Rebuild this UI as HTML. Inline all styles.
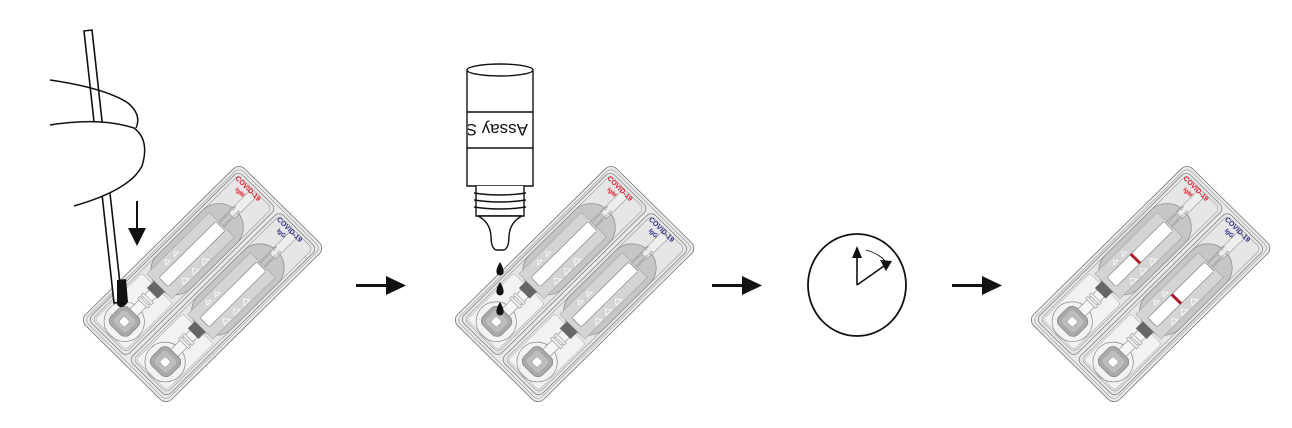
<!DOCTYPE html>
<html><head><meta charset="utf-8"><style>
html,body{margin:0;padding:0;background:#fff;}
svg{display:block;}
</style></head><body>
<svg width="1292" height="428" viewBox="0 0 1292 428" xmlns="http://www.w3.org/2000/svg" font-family="Liberation Sans, sans-serif">
<defs>
<g id="panel">
  <rect x="0" y="0" width="212" height="53" rx="6" fill="#e6e6e6" stroke="#777" stroke-width="0.7"/>
  <rect x="3" y="3" width="206" height="47" rx="5" fill="#e6e6e6" stroke="#999" stroke-width="0.6"/>
  <rect x="5" y="5" width="66" height="43" rx="3" fill="#f2f2f2" stroke="#aaa" stroke-width="0.5"/>
  <circle cx="24" cy="27" r="20" fill="none" stroke="#888" stroke-width="0.7"/>
  <rect x="36" y="22" width="34" height="10" fill="#f6f6f6" stroke="#888" stroke-width="0.6"/>
  <rect x="50" y="20" width="3" height="14" fill="#eee" stroke="#888" stroke-width="0.5"/>
  <rect x="55" y="20" width="3" height="14" fill="#eee" stroke="#888" stroke-width="0.5"/>
  <rect x="12" y="14" width="25" height="26" rx="7" fill="#a9a9a9" stroke="#777" stroke-width="0.6"/>
  <rect x="16" y="18" width="17" height="18" rx="4" fill="#bdbdbd"/>
  <rect x="20" y="23" width="8" height="8" rx="1.5" fill="#fff" stroke="#777" stroke-width="0.4"/>
  <rect x="72" y="3" width="110" height="47" rx="23" fill="#c6c6c6" stroke="#888" stroke-width="0.7"/>
  <rect x="74" y="9" width="88" height="35" fill="#d4d4d4" stroke="#999" stroke-width="0.5"/>
  <rect x="64" y="19" width="10" height="15" fill="#666"/>
  <rect x="80" y="20" width="80" height="13" rx="2" fill="#fff" stroke="#777" stroke-width="0.6"/>
  <g fill="none" stroke="#fff" stroke-width="0.8">
    <path d="M92 42 l4 -5 l4 5z M106 42 l4 -5 l4 5z M120 42 l4 -5 l4 5z"/>
    <path d="M94 16 l3 -4 l3 4z M106 16 l3 -4 l3 4z"/>
  </g>
  <rect x="175" y="22" width="30" height="9" fill="#eee" stroke="#888" stroke-width="0.5"/>
  <text x="162" y="24" font-size="3.5" fill="#777">COVID-19 IgM</text>
  <text x="162" y="30" font-size="3.5" fill="#777">COVID-19 IgG</text>
</g>
<g id="cass">
  <rect x="0" y="0" width="224" height="120" rx="8" fill="#e9e9e9" stroke="#777" stroke-width="0.8"/>
  <rect x="3" y="3" width="218" height="114" rx="6" fill="none" stroke="#999" stroke-width="0.6"/>
  <use href="#panel" x="6" y="5"/>
  <use href="#panel" x="6" y="62"/>
  <g transform="translate(210,8) rotate(90)" font-size="7" font-weight="bold" fill="#e01f2c">
    <text x="0" y="0">COVID-19</text><text x="8" y="8" font-size="6">IgM</text>
  </g>
  <g transform="translate(210,66) rotate(90)" font-size="7" font-weight="bold" fill="#2b2e83">
    <text x="0" y="0">COVID-19</text><text x="8" y="8" font-size="6">IgG</text>
  </g>
</g>
</defs>

<!-- Step 1 -->
<g transform="matrix(0.71,-0.70,0.717,0.708,80,320)"><use href="#cass"/></g>
<path d="M84 31 L92 30 L122 302 L114 303 Z" fill="#fff" stroke="#111" stroke-width="1.6"/>
<path d="M117 280 L126 279 L128 302 Q124 308 120 307 Q116 306 117 300 Z" fill="#111"/>
<path d="M50 80 Q105 88 128 103 Q142 115 136 128" fill="none" stroke="#111" stroke-width="1.5"/>
<path d="M50 125 Q100 117 134 128 Q150 140 142 166 Q130 190 74 206 L50 206 Z" fill="#fff" stroke="none"/>
<path d="M50 125 Q100 117 134 128 Q150 140 142 166 Q130 190 74 206" fill="none" stroke="#111" stroke-width="1.5"/>
<line x1="137" y1="201" x2="137" y2="230" stroke="#111" stroke-width="2"/>
<path d="M128 228 L146 228 L137 246 Z" fill="#111"/>

<!-- arrows -->
<g fill="#111">
  <rect x="356" y="284" width="32" height="3"/><path d="M386 276 L406 285.5 L386 295 Z"/>
  <rect x="712" y="284" width="32" height="3"/><path d="M742 276 L762 285.5 L742 295 Z"/>
  <rect x="952" y="284" width="32" height="3"/><path d="M982 276 L1002 285.5 L982 295 Z"/>
</g>

<!-- Step 2 -->
<g transform="matrix(0.71,-0.70,0.717,0.708,452,320)"><use href="#cass"/></g>
<g fill="#fff" stroke="#111" stroke-width="1.4">
  <path d="M467 70 L467 186 L533 186 L533 70"/>
  <ellipse cx="500" cy="70" rx="33" ry="6"/>
  <line x1="467" y1="112" x2="533" y2="112"/>
  <line x1="467" y1="148" x2="533" y2="148"/>
  <path d="M476 186 L476 216 L524 216 L524 186"/>
  <path d="M474 193 Q500 197 526 193 M474 200 Q500 204 526 200 M474 207 Q500 211 526 207" fill="none"/>
  <path d="M478 216 Q490 222 491 236 Q491 248 496 250 L504 250 Q509 248 509 236 Q510 222 522 216 Z"/>
</g>
<svg x="468" y="113" width="64" height="34" overflow="hidden">
<text transform="translate(60,17) rotate(180)" x="0" y="6" font-size="17" fill="#111">Assay So</text>
</svg>
<g fill="#111">
  <path d="M500 262 Q505 270 503 274 Q500 277 497 274 Q495 270 500 262Z"/>
  <path d="M500 282 Q505 290 503 294 Q500 297 497 294 Q495 290 500 282Z"/>
  <path d="M500 302 Q505 310 503 314 Q500 317 497 314 Q495 310 500 302Z"/>
</g>

<!-- clock -->
<ellipse cx="857" cy="285" rx="49" ry="51" fill="#fff" stroke="#111" stroke-width="1.8"/>
<line x1="857" y1="285" x2="857" y2="256" stroke="#111" stroke-width="1.6"/>
<path d="M852 258 L857 246 L862 258Z" fill="#111"/>
<line x1="857" y1="285" x2="884" y2="266" stroke="#111" stroke-width="1.6"/>
<path d="M880 260 L892 261 L886 271Z" fill="#111"/>
<path d="M866 250 Q880 254 887 263" fill="none" stroke="#111" stroke-width="0.9"/>

<!-- Step 3 -->
<g transform="matrix(0.71,-0.70,0.717,0.708,1028,320)">
  <use href="#cass"/>
  <rect x="118" y="25" width="3" height="13" fill="#b3182a"/>
  <rect x="118" y="82" width="3" height="13" fill="#b3182a"/>
</g>
</svg>
</body></html>
